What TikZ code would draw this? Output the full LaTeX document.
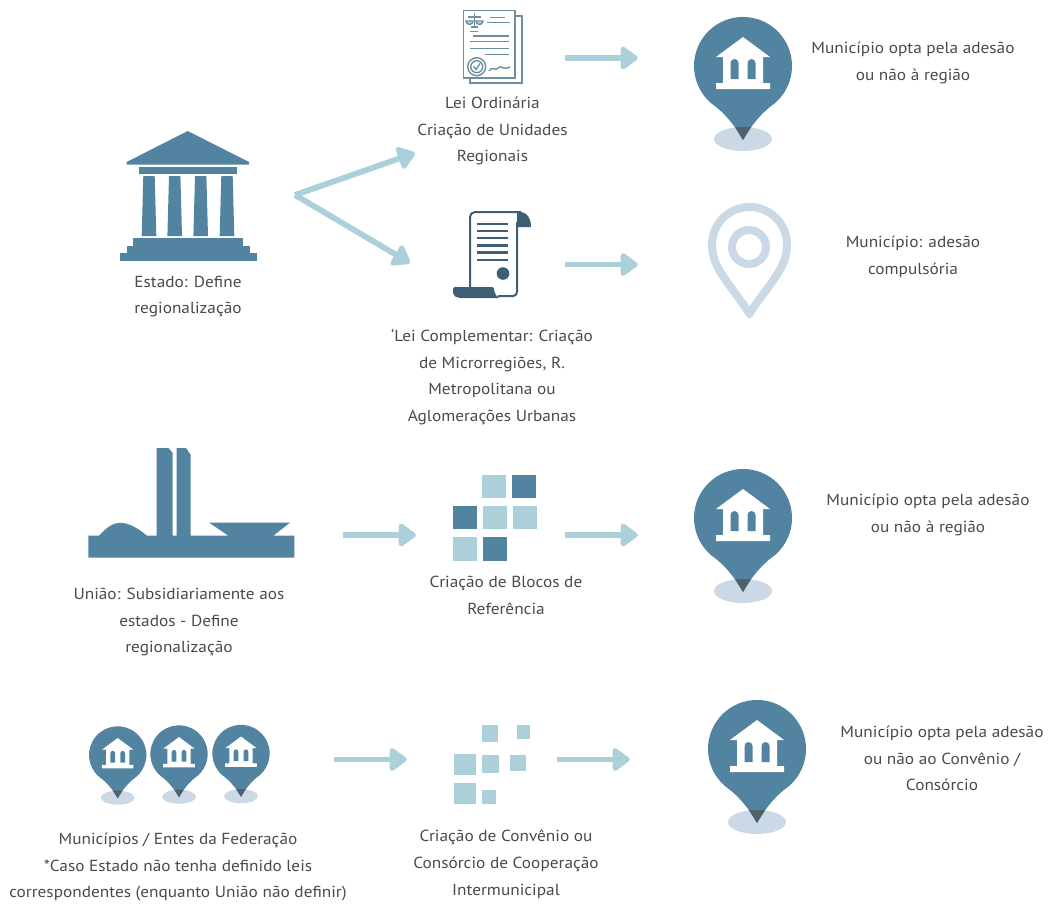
\documentclass[tikz,border=0pt]{standalone}
\usepackage{fontspec}
\setmainfont{PT Sans}[FakeStretch=1.08]
\usetikzlibrary{arrows.meta}
\definecolor{azulpin}{HTML}{5283A1}
\definecolor{azulclaro}{HTML}{ABD0D9}
\definecolor{azulsombra}{HTML}{CBD8E5}
\definecolor{azulescuro}{HTML}{3E5F73}
\definecolor{azullinha}{HTML}{6F8FA0}
\definecolor{pontapin}{HTML}{4F6169}
\definecolor{textocinza}{HTML}{4A4A4A}
\tikzset{
	texto/.style = {align=center, font=\fontsize{16}{26.8}\selectfont, text=textocinza, inner sep=0pt},
	icone/.style = {inner sep=0pt, minimum height=20pt},
	seta/.style = {draw=azulclaro, line width=5.8pt, -{Triangle[length=19pt,width=26pt,round]}},
	quadclaro/.style = {fill=azulclaro},
	quadpin/.style = {fill=azulpin},
	linhalei/.style = {draw=azullinha, line width=1.4pt},
	linharolo/.style = {draw=azulescuro, line width=2.8pt},
	pinbanco/.pic = {
		\fill[azulsombra] (0,-73) ellipse (29 and 12);
		\fill[azulpin] (0,-74) .. controls (-8,-60) and (-18,-47) .. (-31.5,-37.5) arc (230:-50:49) .. controls (18,-47) and (8,-60) .. (0,-74) -- cycle;
		\fill[pontapin] (-8,-61) -- (8,-61) -- (0,-74) -- cycle;
		\fill[white] (0,29) -- (27,9) -- (20,9) -- (20,-17) -- (27,-17) -- (27,-23) -- (-27,-23) -- (-27,-17) -- (-20,-17) -- (-20,9) -- (-27,9) -- cycle;
		\fill[azulpin] (-12.5,-13) -- (-12.5,3) arc (180:0:4) -- (-4.5,-13) -- cycle;
		\fill[azulpin] (4.5,-13) -- (4.5,3) arc (180:0:4) -- (12.5,-13) -- cycle;
	}
}
\begin{document}
\begin{tikzpicture}[x=1pt, y=1pt]
	\useasboundingbox (0,0) rectangle (1049,-903);

	% linha 1 e 2
	\node[icone, minimum width=124pt] (estado) at (188,-196) {};
	\fill[azulpin] (187.7,-131) -- (249,-162) -- (249,-164.5) -- (126.7,-164.5) -- (126.7,-162) -- cycle;
	\fill[azulpin] (138.7,-166.5) rectangle (237,-174);
	\foreach \cx in {149,174.7,200.7,227}
		\fill[azulpin] (\cx-5.7,-176) -- (\cx+5.7,-176) -- (\cx+7.3,-236) -- (\cx-7.3,-236) -- cycle;
	\fill[azulpin] (133.3,-238) rectangle (243.3,-246);
	\fill[azulpin] (126.7,-246) rectangle (250,-253.3);
	\fill[azulpin] (120,-253.3) rectangle (256.7,-261.3);
	\node[texto] (estadotxt) at (188,-296.5) {Estado: Define\\regionalização};

	\node[icone, minimum width=59pt] (leiord) at (492.5,-58) {};
	\draw[linhalei, fill=white] (470,-16) rectangle (522,-83);
	\draw[linhalei, fill=white] (463.5,-10.5) rectangle (515,-78);
	\draw[linhalei] (490,-17.7) -- (505,-17.7);
	\draw[linhalei] (486.7,-22.7) -- (510,-22.7);
	\draw[linhalei] (470,-31.7) -- (478,-31.7);
	\draw[linhalei] (473,-36) -- (509,-36);
	\draw[linhalei] (470,-41.7) -- (509,-41.7);
	\draw[linhalei] (470,-48.3) -- (509,-48.3);
	\draw[linhalei] (485,-54.3) -- (509,-54.3);
	\draw[linhalei] (474.5,-13) -- (474.5,-27) (471,-27) -- (478,-27) (468,-17) -- (481,-17);
	\draw[linhalei, fill=azullinha!40] (466,-21) arc (180:360:3.5) -- cycle;
	\draw[linhalei, fill=azullinha!40] (476,-21) arc (180:360:3.5) -- cycle;
	\draw[linhalei] (476.7,-66.7) circle (9);
	\draw[linhalei] (476.7,-66.7) circle (6);
	\draw[linhalei] (473.5,-66.5) -- (476,-69.5) -- (480,-63.5);
	\draw[linhalei] (489,-71) .. controls (493,-65) and (495,-72) .. (498,-68) .. controls (501,-64) and (502,-71) .. (510,-67);
	\node[texto] (leiordtxt) at (492.5,-131) {Lei Ordinária\\Criação de Unidades\\Regionais};

	\node[icone, minimum width=78pt] (leicomp) at (492,-264.5) {};
	\draw[draw=azulescuro, line width=2pt, rounded corners=5pt] (470,-293) -- (470,-212) -- (521,-212);
	\draw[draw=azulescuro, line width=2pt, rounded corners=4pt] (517,-222) -- (517,-296) -- (498,-296);
	\fill[azulescuro] (517,-212) .. controls (526,-211) and (531,-217) .. (531,-227) -- (517,-227) -- cycle;
	\fill[azulescuro, rounded corners=2pt] (453,-287) -- (494,-287) .. controls (494,-292) and (496,-296) .. (500,-298) -- (458,-298) -- (453,-295) -- cycle;
	\foreach \ly in {224,231,238,245.7,252.7,260}
		\draw[linharolo] (477,-\ly) -- (508,-\ly);
	\fill[azulescuro] (503,-273.5) circle (6.3);
	\node[texto] (leicomptxt) at (492,-377) {\symbol{96}Lei Complementar: Criação\\de Microrregiões, R.\\Metropolitana ou\\Aglomerações Urbanas};

	\pic at (743,-66) {pinbanco};
	\node[icone, minimum width=98pt] (pinum) at (743,-58) {};
	\node[texto] (pinumtxt) at (913,-63) {Município opta pela adesão\\ou não à região};

	\node[icone, minimum width=83pt] (pindois) at (749.5,-264.5) {};
	\draw[azulsombra, line width=8pt, line join=round] (749.5,-314) .. controls (744,-304) and (732,-290) .. (723,-276) .. controls (716,-266) and (712,-256) .. (712,-244.5) arc (180:0:37.5) .. controls (787,-256) and (783,-266) .. (776,-276) .. controls (767,-290) and (755,-304) .. cycle;
	\draw[azulsombra, line width=8pt] (749,-247) circle (17);
	\node[texto] (pindoistxt) at (913,-257) {Município: adesão\\compulsória};

	\coordinate (garfo) at (295,-195);
	\coordinate (garfocima) at (415,-153);
	\coordinate (garfobaixo) at (410,-263);
	\draw[seta] (garfo) -- (garfocima);
	\draw[seta] (garfo) -- (garfobaixo);
	\draw[seta, shorten <=43pt, shorten >=56pt] (leiord.east) -- (pinum.west);
	\draw[seta, shorten <=34pt, shorten >=70pt] (leicomp.east) -- (pindois.west);

	% linha 3
	\node[icone, minimum width=206pt] (uniao) at (191.3,-535) {};
	\fill[azulpin] (88.3,-535.7) -- (99,-535.7) .. controls (106,-528) and (113,-522.7) .. (120,-522.7) .. controls (129,-522.7) and (139,-529) .. (147,-535.7) -- (156.7,-535.7) -- (156.7,-448) -- (168.5,-448) -- (172.7,-453) -- (172.7,-535.7) -- (176.7,-535.7) -- (176.7,-448) -- (186,-448) -- (190.7,-455) -- (190.7,-535.7) -- (228.3,-535.7) -- (209.3,-522.7) -- (290,-522.7) -- (273.3,-535.7) -- (294.3,-535.7) -- (294.3,-557.7) -- (88.3,-557.7) -- cycle;
	\node[texto] (uniaotxt) at (179,-622) {União: Subsidiariamente aos\\estados - Define\\regionalização};

	\node[icone, minimum width=84pt] (blocos) at (495,-535) {};
	\fill[quadclaro] (482,-474.7) rectangle ++(23.5,-23.4);
	\fill[quadpin] (512,-474.7) rectangle ++(23.5,-23.4);
	\fill[quadpin] (453,-506) rectangle ++(23.5,-23.4);
	\fill[quadclaro] (483,-506) rectangle ++(23.5,-23.4);
	\fill[quadclaro] (513,-506) rectangle ++(23.5,-23.4);
	\fill[quadclaro] (453,-537.3) rectangle ++(23.5,-23.4);
	\fill[quadpin] (483,-537.3) rectangle ++(23.5,-23.4);
	\node[texto] (blocostxt) at (506,-595) {Criação de Blocos de\\Referência};

	\pic at (743,-518) {pinbanco};
	\node[icone, minimum width=98pt] (pintres) at (743,-535) {};
	\node[texto] (pintrestxt) at (928,-515) {Município opta pela adesão\\ou não à região};

	\draw[seta, shorten <=48.7pt, shorten >=37pt] (uniao.east) -- (blocos.west);
	\draw[seta, shorten <=28pt, shorten >=56pt] (blocos.east) -- (pintres.west);

	% linha 4
	\node[icone, minimum width=180pt] (entes) at (179,-759.5) {};
	\pic[scale=0.585, transform shape] at (117.7,-755) {pinbanco};
	\pic[scale=0.585, transform shape] at (179,-754) {pinbanco};
	\pic[scale=0.585, transform shape] at (241,-753.5) {pinbanco};
	\node[texto] (entestxt) at (178,-867) {Municípios / Entes da Federação\\*Caso Estado não tenha definido leis\\correspondentes (enquanto União não definir)};

	\node[icone, minimum width=76pt] (convenio) at (492,-759.5) {};
	\fill[quadclaro] (481.7,-725.3) rectangle (498.3,-742.3);
	\fill[quadclaro] (516.7,-725.3) rectangle (530,-739.3);
	\fill[quadclaro] (454.3,-754) rectangle (476,-775.3);
	\fill[quadclaro] (482.3,-755) rectangle (499.3,-772.7);
	\fill[quadclaro] (510,-755) rectangle (525.7,-770.7);
	\fill[quadclaro] (454.3,-782.7) rectangle (476,-804);
	\fill[quadclaro] (482,-790.3) rectangle (496,-804);
	\node[texto] (conveniotxt) at (506,-864) {Criação de Convênio ou\\Consórcio de Cooperação\\Intermunicipal};

	\pic at (757,-749) {pinbanco};
	\node[icone, minimum width=98pt] (pinquatro) at (757,-759.5) {};
	\node[texto] (pinquatrotxt) at (942,-758.5) {Município opta pela adesão\\ou não ao Convênio /\\Consórcio};

	\draw[seta, shorten <=65pt, shorten >=47pt] (entes.east) -- (convenio.west);
	\draw[seta, shorten <=27pt, shorten >=78pt] (convenio.east) -- (pinquatro.west);
\end{tikzpicture}
\end{document}
